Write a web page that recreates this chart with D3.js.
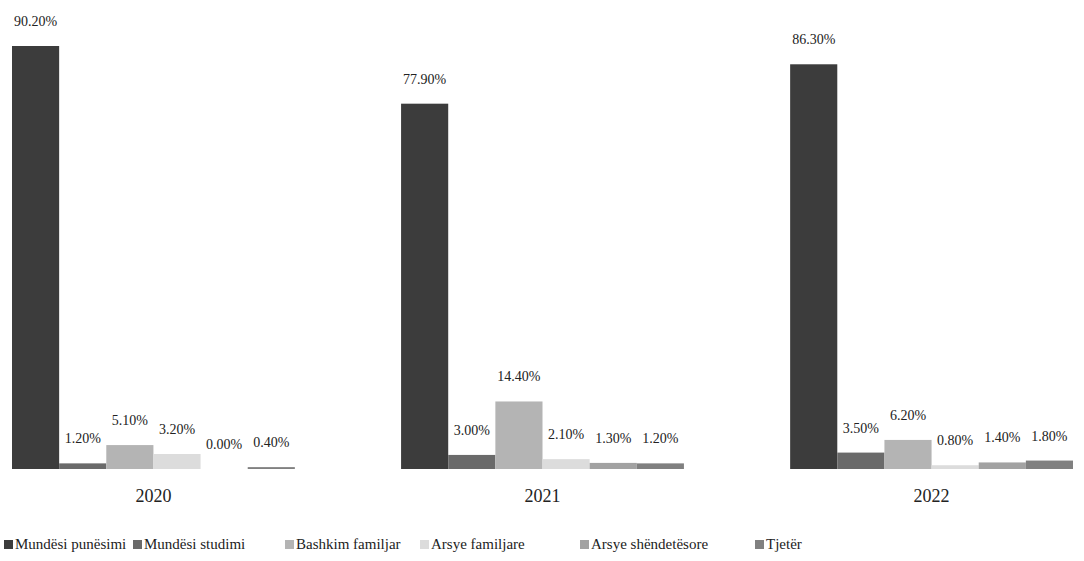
<!DOCTYPE html>
<html>
<head>
<meta charset="utf-8">
<script src="https://cdn.jsdelivr.net/npm/d3@7"></script>
<style>
  body { margin: 0; background: #fff; }
  svg text { font-family: "Liberation Serif", "DejaVu Serif", serif; }
</style>
</head>
<body>
<div id="chart"></div>
<script>
const years = ['2020', '2021', '2022']
const series = ['Mundësi punësimi', 'Mundësi studimi', 'Bashkim familjar', 'Arsye familjare', 'Arsye shëndetësore', 'Tjetër']
const punesimi = [90.2, 77.9, 86.3]
const studimi = [1.2, 3.0, 3.5]
const bashkim = [5.1, 14.4, 6.2]
const familjare = [3.2, 2.1, 0.8]
const shendetesore = [0.0, 1.3, 1.4]
const tjeter = [0.4, 1.2, 1.8]
const colors = ['#3c3c3c', '#6a6a6a', '#b4b4b4', '#dcdcdc', '#a2a2a2', '#808080']

const values = [punesimi, studimi, bashkim, familjare, shendetesore, tjeter]
const width = 1084, height = 561
const baseY = 469
const serif = '"Liberation Serif", "DejaVu Serif", serif'

const svg = d3.select('#chart').append('svg')
  .attr('width', width)
  .attr('height', height)
  .attr('font-family', serif)

const x0 = d3.scaleBand().domain(years).range([12, 1073]).paddingInner(0.273)
const x1 = d3.scaleBand().domain(series).range([0, x0.bandwidth()])
const y = d3.scaleLinear().domain([0, 90.2]).range([baseY, 46])

const rows = []
years.forEach((yr, i) => {
  series.forEach((s, j) => {
    rows.push({year: yr, series: s, idx: j, value: values[j][i]})
  })
})

const g = svg.append('g')
g.selectAll('rect')
  .data(rows)
  .enter().append('rect')
  .attr('x', d => x0(d.year) + x1(d.series))
  .attr('y', d => y(d.value))
  .attr('width', x1.bandwidth())
  .attr('height', d => Math.max(0, baseY - y(d.value)))
  .attr('fill', d => colors[d.idx])

g.selectAll('text.lbl')
  .data(rows)
  .enter().append('text')
  .attr('class', 'lbl')
  .attr('x', d => x0(d.year) + x1(d.series) + x1.bandwidth() / 2)
  .attr('y', d => y(d.value) - 20)
  .attr('text-anchor', 'middle')
  .attr('font-size', 14)
  .attr('font-family', serif)
  .attr('fill', '#222')
  .text(d => d.value.toFixed(2) + '%')

// year labels
const xAxis = d3.axisBottom(x0).tickSize(0).tickPadding(0)
const ax = svg.append('g')
  .attr('transform', `translate(0,${baseY + 20})`)
  .call(xAxis)
ax.attr('font-family', serif)
ax.select('.domain').remove()
ax.selectAll('text')
  .attr('font-size', 18)
  .attr('fill', '#222')
  .attr('font-family', serif)

// legend
const legendX = [4, 133, 285, 420, 580, 755]
const leg = svg.append('g').attr('transform', 'translate(0,549)')
const item = leg.selectAll('g')
  .data(series)
  .enter().append('g')
  .attr('transform', (d, i) => `translate(${legendX[i]},0)`)
item.append('rect')
  .attr('x', 0)
  .attr('y', -9)
  .attr('width', 9)
  .attr('height', 9)
  .attr('fill', (d, i) => colors[i])
item.append('text')
  .attr('x', 11)
  .attr('y', 0)
  .attr('font-size', 15)
  .attr('font-family', serif)
  .attr('fill', '#222')
  .text(d => d)
</script>
</body>
</html>
